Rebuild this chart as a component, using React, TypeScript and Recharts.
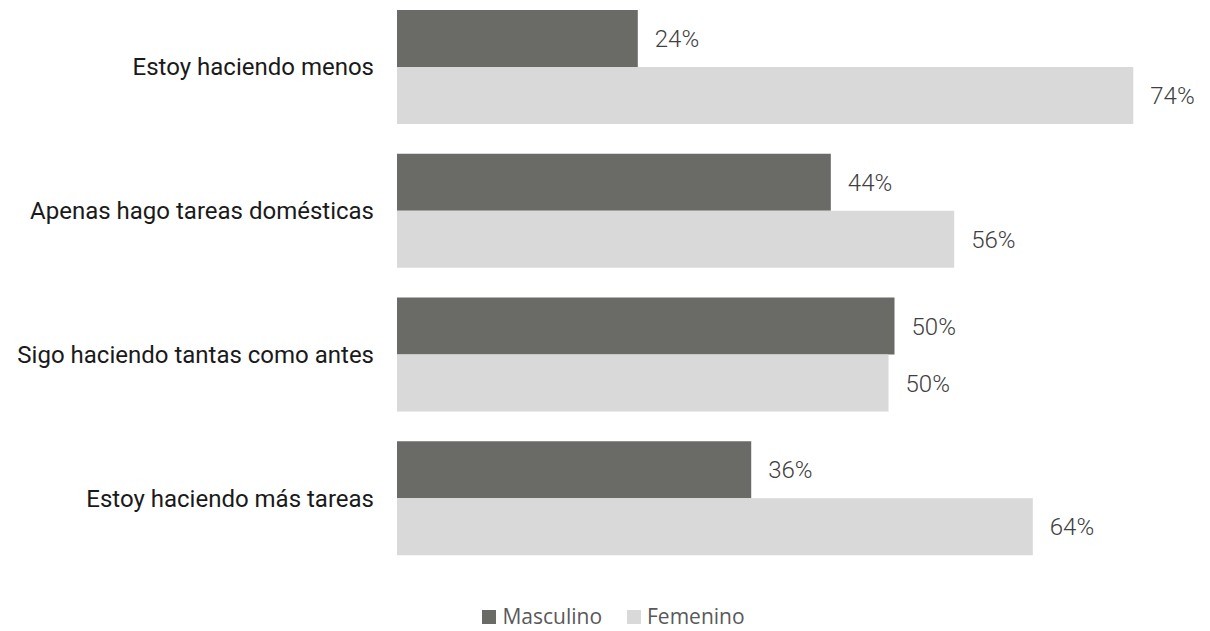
import { Bar, BarChart, LabelList, Legend, XAxis, YAxis } from "recharts";

const CATEGORIES = [
  "Estoy haciendo menos",
  "Apenas hago tareas domésticas",
  "Sigo haciendo tantas como antes",
  "Estoy haciendo más tareas"
];
const MASCULINO = [24.2, 43.6, 50.0, 35.6];
const FEMENINO = [74.0, 56.0, 49.4, 63.9];
const MASCULINO_LABELS = ["24%", "44%", "50%", "36%"];
const FEMENINO_LABELS = ["74%", "56%", "50%", "64%"];

const DARK = "#6a6b66";
const LIGHT = "#d9d9d9";

const data = CATEGORIES.map((name, i) => ({
  name,
  masculino: MASCULINO[i],
  femenino: FEMENINO[i],
  mLabel: MASCULINO_LABELS[i],
  fLabel: FEMENINO_LABELS[i]
}));

function LegendContent() {
  const items = [
    { label: "Masculino", color: DARK },
    { label: "Femenino", color: LIGHT }
  ];
  return (
    <div
      style={{
        display: "flex",
        justifyContent: "center",
        gap: 25,
        paddingLeft: 34,
        fontFamily: "'Open Sans', sans-serif",
        fontSize: 21,
        lineHeight: "29px",
        color: "#595959"
      }}
    >
      {items.map((item) => (
        <div key={item.label} style={{ display: "flex", alignItems: "center", gap: 6 }}>
          <span style={{ width: 14, height: 14, background: item.color, display: "inline-block" }} />
          <span>{item.label}</span>
        </div>
      ))}
    </div>
  );
}

export default function App() {
  return (
    <div
      style={{
        position: "absolute",
        left: 0,
        top: -5,
        width: 1210,
        height: 636,
        background: "#fff",
        fontFamily: "Roboto, sans-serif"
      }}
    >
      <BarChart
        data={data}
        height={636}
        layout="vertical"
        margin={{ bottom: 32, left: 0, right: 17, top: 0 }}
        width={1210}
        barGap={0}
        barSize={57}
        style={{ fontFamily: "Roboto, sans-serif" }}
      >
        <XAxis domain={[0, 80]} hide type="number" />
        <YAxis
          axisLine={false}
          dataKey="name"
          tick={{ fill: "#1a1a1a", fontSize: 24, style: { fontFamily: "Roboto, sans-serif" } }}
          tickLine={false}
          tickMargin={23}
          tickSize={0}
          type="category"
          width={397}
        />
        <Legend content={<LegendContent />} verticalAlign="bottom" wrapperStyle={{ bottom: 0 }} />
        <Bar dataKey="masculino" fill={DARK} isAnimationActive={false} name="Masculino">
          <LabelList
            dataKey="mLabel"
            fill="#404040"
            fontSize={24}
            offset={17}
            position="right"
            style={{ fontFamily: "Roboto, sans-serif", fontWeight: 300 }}
          />
        </Bar>
        <Bar dataKey="femenino" fill={LIGHT} isAnimationActive={false} name="Femenino">
          <LabelList
            dataKey="fLabel"
            fill="#404040"
            fontSize={24}
            offset={17}
            position="right"
            style={{ fontFamily: "Roboto, sans-serif", fontWeight: 300 }}
          />
        </Bar>
      </BarChart>
    </div>
  );
}
